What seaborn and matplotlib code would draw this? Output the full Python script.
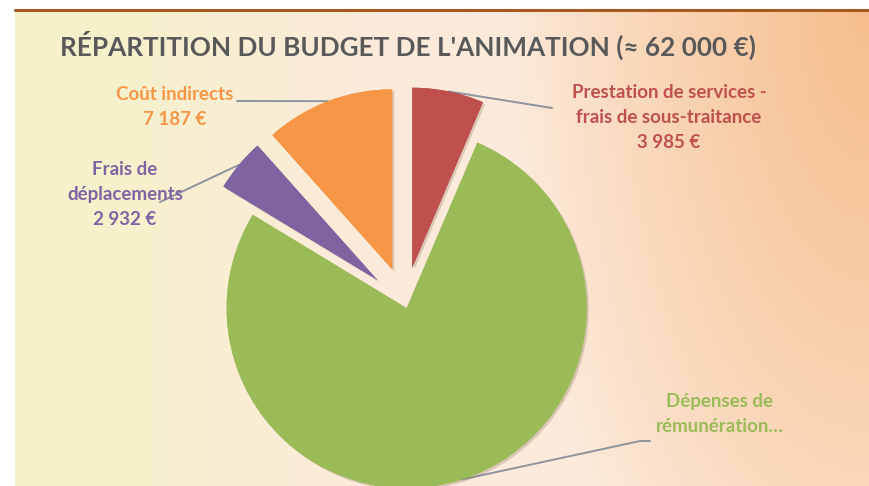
import numpy as np
import matplotlib
matplotlib.use("Agg")
import matplotlib.pyplot as plt
import matplotlib.patheffects as pe
import seaborn as sns

# =========================================================
# DATA
# =========================================================

categories = [
    "Prestation de services -\nfrais de sous-traitance",
    "Dépenses de\nrémunération…",
    "Frais de\ndéplacements",
    "Coût indirects",
]
values = [3985, 47896, 2932, 7187]
value_labels = ["3 985 €", "", "2 932 €", "7 187 €"]
colors = ["#c0504d", "#9bbb59", "#8064a2", "#f79646"]
explode = [0.2, 0.03, 0.2, 0.2]

title = "RÉPARTITION DU BUDGET DE L'ANIMATION (≈ 62 000 €)"

# label layout (pixels: text centre of first line, leader end point)
label_pos = [(669, 93), (720, 402), (125, 170), (175, 95)]
leader_end = [(552, 108), (640, 441), (160, 202), (237, 101)]

# =========================================================
# STYLE
# =========================================================

sns.set_theme(style="white")
plt.rcParams["font.family"] = ["Lato", "DejaVu Sans"]

W, H = 869, 486
CX, CY, R = 405, 303, 180  # pie centre / radius in pixels

fig = plt.figure(figsize=(W / 100, H / 100), dpi=100)
fig.patch.set_facecolor("white")

# ---------------------------------------------------------
# BACKGROUND GRADIENT
# ---------------------------------------------------------

left, top = 15, 10
bg = fig.add_axes([left / W, 0, 1 - left / W, (H - top) / H])
nx, ny = 300, 200
u = np.linspace(0, 1, nx)[None, :]
v = np.linspace(0, 1, ny)[:, None]
cream = np.array([245, 242, 202]) / 255
peach = np.array([252, 234, 219]) / 255
orange = np.array([246, 190, 140]) / 255
t = np.clip(u / 0.5, 0, 1)
t = t * t * (3 - 2 * t)
base = cream[None, None, :] * (1 - t[..., None]) + peach[None, None, :] * t[..., None]
base = np.broadcast_to(base, (ny, nx, 3))
d = np.sqrt(((1 - u) / 0.42) ** 2 + (v / 1.6) ** 2)
w = np.clip(1 - d, 0, 1) ** 0.9
img = base * (1 - w[..., None]) + orange[None, None, :] * w[..., None]
bg.imshow(img, aspect="auto", extent=[0, 1, 0, 1], interpolation="bilinear")
bg.set_axis_off()

fig.add_artist(plt.Line2D([left / W, 1], [1 - top / H, 1 - top / H],
                          color="#a65a22", lw=2.2))

# ---------------------------------------------------------
# PIE
# ---------------------------------------------------------

ax = fig.add_axes([0, 0, 1, 1])
ax.set_aspect("equal")
ax.set_axis_off()
ax.patch.set_alpha(0)

wedges, _ = ax.pie(
    values,
    colors=colors,
    explode=explode,
    startangle=90,
    counterclock=False,
    radius=1,
    center=(0, 0),
    wedgeprops={"linewidth": 0},
)
ax.set_xlim((0 - CX) / R, (W - CX) / R)
ax.set_ylim((CY - H) / R, CY / R)

shadow = [pe.withSimplePatchShadow(offset=(1.5, -1.5), shadow_rgbFace="#8a7560",
                                   alpha=0.3), pe.Normal()]


def to_data(px, py):
    return (px - CX) / R, (CY - py) / R


for i, wdg in enumerate(wedges):
    wdg.set_path_effects(shadow)

    # leader line from mid of the arc to the label
    mid = np.deg2rad((wdg.theta1 + wdg.theta2) / 2)
    cx, cy = wdg.center
    ax_x = cx + wdg.r * np.cos(mid)
    ax_y = cy + wdg.r * np.sin(mid)
    ex, ey = to_data(*leader_end[i])
    xs, ys = [ax_x, ex], [ax_y, ey]
    if i == 1:
        # small horizontal tail under the green label
        xs.append(ex + 10 / R)
        ys.append(ey)
    ax.plot(xs, ys, color="#8d949c", lw=1.4, zorder=0.5,
            solid_capstyle="round")

    tx, ty = to_data(*label_pos[i])
    text = categories[i]
    if value_labels[i]:
        text = text + "\n" + value_labels[i]
    ax.text(tx, ty + 9 / R, text, color=colors[i], fontsize=13.5,
            fontweight="bold", ha="center", va="top", linespacing=1.57,
            transform=ax.transData)

# ---------------------------------------------------------
# TITLE
# ---------------------------------------------------------

fig.text(408 / W, 1 - 45 / H, title, color="#595959", fontsize=18.8,
         fontweight="bold", ha="center", va="center")

plt.savefig("out.png", dpi=100)
